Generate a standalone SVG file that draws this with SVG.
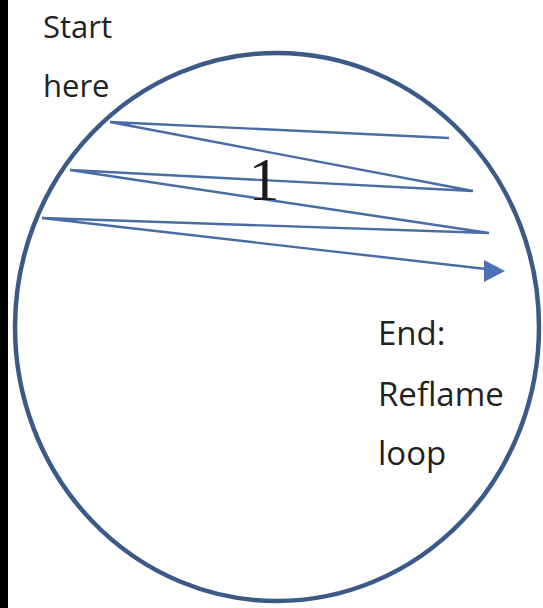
<svg xmlns="http://www.w3.org/2000/svg" width="543" height="608" viewBox="0 0 543 608">
<defs>
<style>
.lbl{font-family:"Open Sans","Liberation Sans",sans-serif;font-size:31px;fill:#222222}
.lbl2{font-family:"Open Sans","Liberation Sans",sans-serif;font-size:33px;fill:#222222}
.num{font-family:"Liberation Serif",serif;font-size:62px;fill:#1a1a1a}
.zig{fill:none;stroke:#4a6ca5;stroke-width:2.4;stroke-linejoin:miter}
</style>
</defs>
<rect x="0" y="0" width="543" height="608" fill="#ffffff"/>
<rect x="0" y="0" width="8" height="608" fill="#000000"/>
<g id="circle">
<ellipse cx="277" cy="327" rx="262" ry="274" fill="none" stroke="#3c5a88" stroke-width="4.5"/>
</g>
<g id="connectors">
<polyline class="zig" points="449,138 110,122 473,191 70,170 489,233 42,218 486,269"/>
<path d="M484,260 L505,271 L484,282 Z" fill="#4a72b5"/>
</g>
<g id="start-label">
<text class="lbl" x="43" y="38">Start</text>
<text class="lbl" x="43" y="97">here</text>
</g>
<g id="number-label">
<text class="num" x="264" y="200" text-anchor="middle">1</text>
</g>
<g id="end-label">
<text class="lbl2" x="378" y="345">End:</text>
<text class="lbl2" x="378" y="406">Reflame</text>
<text class="lbl2" x="378" y="465">loop</text>
</g>
</svg>
